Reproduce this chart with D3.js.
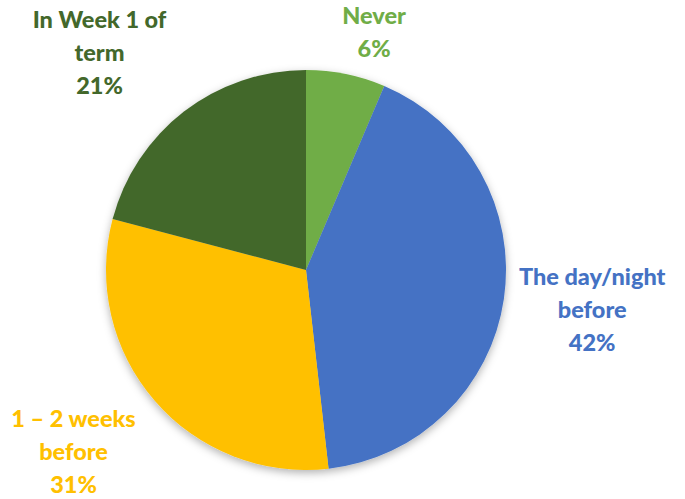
<!DOCTYPE html>
<html>
<head>
<meta charset="utf-8">
<script src="https://cdn.jsdelivr.net/npm/d3@7"></script>
<style>
  html, body { margin: 0; padding: 0; background: #fff; }
  svg { display: block; }
</style>
</head>
<body>
<div id="chart"></div>
<script>
// chart data
const categories = ["Never", "The day/night before", "1 – 2 weeks before", "In Week 1 of term"];
const values = [6.4, 41.8, 30.9, 20.9];
const nameLines = [
  ["Never"],
  ["The day/night", "before"],
  ["1 – 2 weeks", "before"],
  ["In Week 1 of", "term"]
];
const colors = ["#70AD47", "#4472C4", "#FFC000", "#43682B"];

// label layout (polar position around centre, in px)
const labelAngle = [16, 98, 232, 316.5];
const labelRadius = [247, 289, 295, 300];

const width = 685, height = 499;
const cx = 306, cy = 270, radius = 200;
const lineH = 33;

const svg = d3.select("#chart").append("svg")
  .attr("width", width)
  .attr("height", height);

const defs = svg.append("defs");
const shadow = defs.append("filter")
  .attr("id", "shadow")
  .attr("x", "-20%").attr("y", "-20%")
  .attr("width", "140%").attr("height", "140%");
shadow.append("feDropShadow")
  .attr("dx", 0).attr("dy", 3)
  .attr("stdDeviation", 4)
  .attr("flood-color", "#000")
  .attr("flood-opacity", 0.3);

const data = categories.map((c, i) => ({ name: c, value: values[i], i }));

const pie = d3.pie().value(d => d.value).sort(null);
const arc = d3.arc().innerRadius(0).outerRadius(radius);

const g = svg.append("g")
  .attr("transform", `translate(${cx},${cy})`);

g.append("g")
  .attr("filter", "url(#shadow)")
  .selectAll("path")
  .data(pie(data))
  .enter()
  .append("path")
  .attr("d", arc)
  .attr("fill", d => colors[d.data.i]);

// labels
const labels = g.selectAll("text.label")
  .data(data)
  .enter()
  .append("text")
  .attr("class", "label")
  .attr("text-anchor", "middle")
  .style("font-family", "Lato, 'Open Sans', sans-serif")
  .style("font-weight", "900")
  .style("font-size", "23.5px")
  .attr("fill", d => colors[d.i])
  .attr("transform", d => {
    const a = labelAngle[d.i] * Math.PI / 180;
    const r = labelRadius[d.i];
    return `translate(${r * Math.sin(a)},${-r * Math.cos(a)})`;
  });

labels.each(function(d) {
  const lines = nameLines[d.i].concat([Math.round(d.value) + "%"]);
  const t = d3.select(this);
  const offset = -(lines.length - 1) / 2 * lineH;
  lines.forEach((ln, k) => {
    t.append("tspan")
      .attr("x", 0)
      .attr("y", offset + k * lineH)
      .attr("dy", "0.35em")
      .text(ln);
  });
});
</script>
</body>
</html>
